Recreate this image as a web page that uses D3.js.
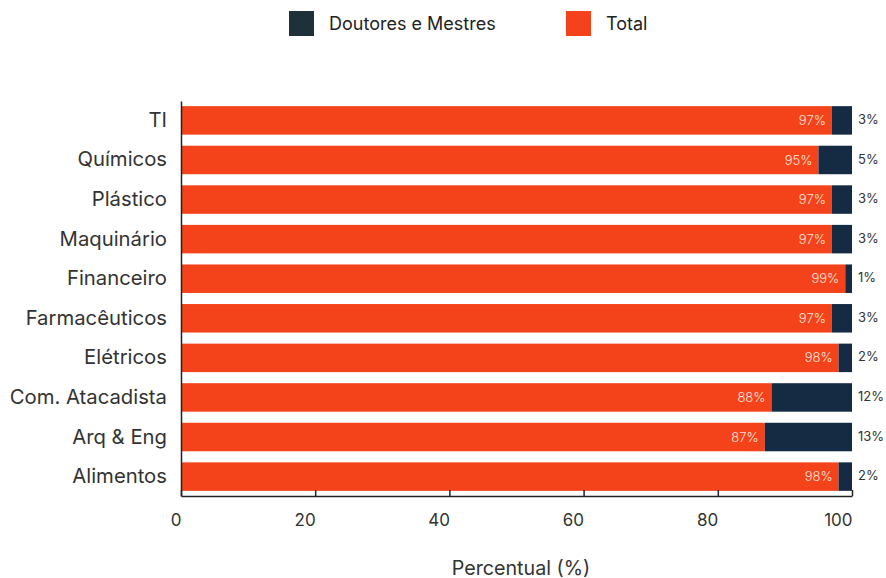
<!DOCTYPE html>
<html><head><meta charset="utf-8">
<script src="https://cdn.jsdelivr.net/npm/d3@7"></script>
<style>body{margin:0;background:#fff}svg{display:block;font-family:Inter,"Noto Sans",sans-serif}</style>
</head><body><svg id="c" width="886" height="578"></svg>
<script>
const categories = ["TI","Químicos","Plástico","Maquinário","Financeiro","Farmacêuticos","Elétricos","Com. Atacadista","Arq & Eng","Alimentos"];
const totalValues = [97,95,97,97,99,97,98,88,87,98];
const doutoresValues = [3,5,3,3,1,3,2,12,13,2];
const xTicks = [0,20,40,60,80,100];
const seriesNames = ["Doutores e Mestres","Total"];

const colOrange = "#f4431a", colDark = "#142b43", colLegendDark = "#1e3039";
const svg = d3.select("#c");
const x = d3.scaleLinear().domain([0,100]).range([181,852]);
const y = d3.scaleBand().domain(categories).range([101,496]).paddingInner(0.28).paddingOuter(0.13);

const g = svg.append("g");
categories.forEach((c,i)=>{
  g.append("rect").attr("x",x(0)).attr("y",y(c)).attr("width",x(totalValues[i])-x(0)).attr("height",y.bandwidth()).attr("fill",colOrange);
  g.append("rect").attr("x",x(totalValues[i])).attr("y",y(c)).attr("width",x(totalValues[i]+doutoresValues[i])-x(totalValues[i])).attr("height",y.bandwidth()).attr("fill",colDark);
  g.append("text").attr("x",x(totalValues[i])-6).attr("y",y(c)+y.bandwidth()/2).attr("dy","0.35em").attr("text-anchor","end")
    .attr("font-size",13).attr("font-weight",300).attr("fill","#fde3dc").text(totalValues[i]+"%");
  g.append("text").attr("x",x(100)+6).attr("y",y(c)+y.bandwidth()/2 - 1).attr("dy","0.35em").attr("text-anchor","start")
    .attr("font-size",13).attr("fill","#333").text(doutoresValues[i]+"%");
});

// y axis
const ya = svg.append("g").attr("transform",`translate(${x(0)},0)`).call(d3.axisLeft(y).tickSize(0).tickPadding(14));
ya.select(".domain").attr("stroke","#222").attr("stroke-width",1.5);
ya.selectAll("text").attr("font-size",20.3).attr("fill","#333").style("font-family","Inter,'Noto Sans',sans-serif");

// x axis
const xa = svg.append("g").attr("transform","translate(0,496)").call(d3.axisBottom(x).tickValues(xTicks).tickSizeInner(-6).tickSizeOuter(0).tickPadding(18));
xa.select(".domain").attr("stroke","#222").attr("stroke-width",1.5);
xa.selectAll(".tick line").attr("stroke","#222").attr("stroke-width",1.5);
xa.selectAll("text").attr("font-size",17).attr("fill","#333").attr("text-anchor","end").style("font-family","Inter,'Noto Sans',sans-serif");

svg.append("text").attr("x",521).attr("y",568).attr("dy","0.35em").attr("text-anchor","middle").attr("font-size",19.7).attr("fill","#333").text("Percentual (%)");

// legend
const leg = [{n:seriesNames[0],c:colLegendDark,x:289},{n:seriesNames[1],c:colOrange,x:566}];
leg.forEach(l=>{
  svg.append("rect").attr("x",l.x).attr("y",11).attr("width",25).attr("height",25).attr("fill",l.c);
  svg.append("text").attr("x",l.x+40).attr("y",23.5).attr("dy","0.35em").attr("font-size",18).attr("fill","#222").text(l.n);
});
</script></body></html>
